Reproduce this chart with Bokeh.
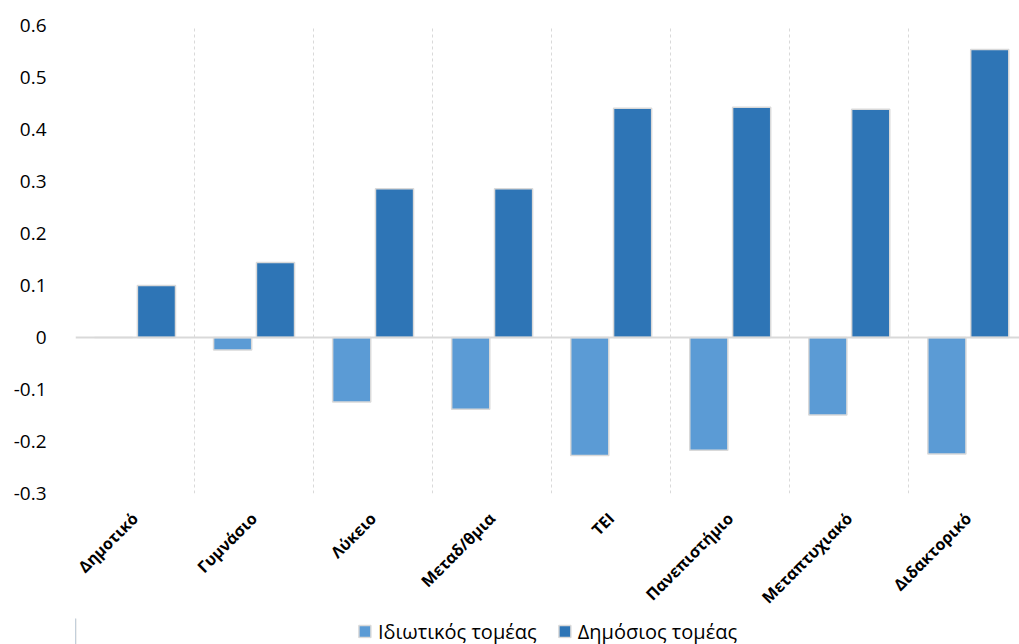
import numpy as np
from bokeh.plotting import figure
from bokeh.layouts import column
from bokeh.models import (ColumnDataSource, FixedTicker, NumeralTickFormatter, Span,
                          Legend, LegendItem, Range1d, Grid)
from bokeh.embed import file_html
from bokeh.resources import INLINE

categories = ["Δημοτικό", "Γυμνάσιο", "Λύκειο", "Μεταδ/θμια", "TEI",
              "Πανεπιστήμιο", "Μεταπτυχιακό", "Διδακτορικό"]
private_sector = [0.0, -0.024, -0.124, -0.138, -0.227, -0.217, -0.149, -0.224]
public_sector = [0.100, 0.144, 0.286, 0.286, 0.441, 0.443, 0.439, 0.554]
series_names = ["Ιδιωτικός τομέας", "Δημόσιος τομέας"]
y_ticks = [-0.3, -0.2, -0.1, 0.0, 0.1, 0.2, 0.3, 0.4, 0.5, 0.6]

FONT = "Open Sans"
C_PRIV = "#5B9BD5"
C_PUB = "#2E75B6"
OUTLINE = "#d9d9d9"

n = len(categories)
centers = np.arange(n) + 0.5
offset = 0.18
bar_w = 0.32

src = ColumnDataSource(dict(
    xp=centers - offset, xq=centers + offset,
    priv=private_sector, pub=public_sector,
))

p = figure(width=1019, height=618, output_backend="svg", toolbar_location=None,
           x_range=Range1d(0, n - 0.07), y_range=Range1d(-0.3, 0.6),
           min_border_left=73, min_border_right=0, min_border_top=25,
           min_border_bottom=125)
p.outline_line_color = None
p.background_fill_color = "white"
p.border_fill_color = "white"

r1 = p.vbar(x="xp", top="priv", bottom=0, width=bar_w, source=src,
            fill_color=C_PRIV, line_color=OUTLINE, line_width=1.5)
r2 = p.vbar(x="xq", top="pub", bottom=0, width=bar_w, source=src,
            fill_color=C_PUB, line_color=OUTLINE, line_width=1.5)

zero = Span(location=0, dimension="width", line_color="#d9d9d9", line_width=2)
p.add_layout(zero)

# grids
p.ygrid.visible = False
p.xgrid.ticker = FixedTicker(ticks=list(range(n + 1)))
p.xgrid.grid_line_color = "#d9d9d9"
p.xgrid.grid_line_dash = "3 3"
p.xgrid.grid_line_width = 1

# x axis
p.xaxis.ticker = FixedTicker(ticks=list(centers))
p.xaxis.major_label_overrides = {float(c): lab for c, lab in zip(centers, categories)}
p.xaxis.major_label_orientation = np.pi / 4
p.xaxis.axis_line_color = None
p.xaxis.major_tick_line_color = None
p.xaxis.minor_tick_line_color = None
p.xaxis.major_label_text_font = FONT
p.xaxis.major_label_text_font_style = "bold"
p.xaxis.major_label_text_font_size = "16px"
p.xaxis.major_label_text_color = "#000000"
p.xaxis.major_label_standoff = 16

# y axis
p.yaxis.ticker = FixedTicker(ticks=y_ticks)
p.yaxis.formatter = NumeralTickFormatter(format="0.[0]")
p.yaxis.axis_line_color = None
p.yaxis.major_tick_line_color = None
p.yaxis.minor_tick_line_color = None
p.yaxis.major_label_text_font = FONT
p.yaxis.major_label_text_font_size = "19px"
p.yaxis.major_label_text_color = "#000000"
p.yaxis.major_label_standoff = 23

# legend strip below the chart (proxy renderers kept outside the strip's view)
pl = figure(width=1019, height=26, output_backend="svg", toolbar_location=None,
            x_range=Range1d(0, 1), y_range=Range1d(0, 1),
            x_axis_location=None, y_axis_location=None,
            min_border_left=75, min_border_right=0, min_border_top=0, min_border_bottom=0)
pl.outline_line_color = None
for g in pl.select(type=Grid):
    g.visible = False
    g.grid_line_color = None
lg1 = pl.vbar(x=[-5], top=[1], bottom=[0], width=0.1,
              fill_color=C_PRIV, line_color=OUTLINE, line_width=1.5)
lg2 = pl.vbar(x=[-5], top=[1], bottom=[0], width=0.1,
              fill_color=C_PUB, line_color=OUTLINE, line_width=1.5)
legend = Legend(items=[LegendItem(label=series_names[0], renderers=[lg1]),
                       LegendItem(label=series_names[1], renderers=[lg2])],
                orientation="horizontal", location="center",
                label_text_font=FONT, label_text_font_size="20px",
                label_text_color="#000000", glyph_width=15, glyph_height=15,
                spacing=20, padding=0, margin=0, border_line_color=None,
                background_fill_alpha=0, label_standoff=6)
pl.add_layout(legend, "center")

layout = column(p, pl, spacing=0)
open("out.html", "w").write(file_html(layout, INLINE))
